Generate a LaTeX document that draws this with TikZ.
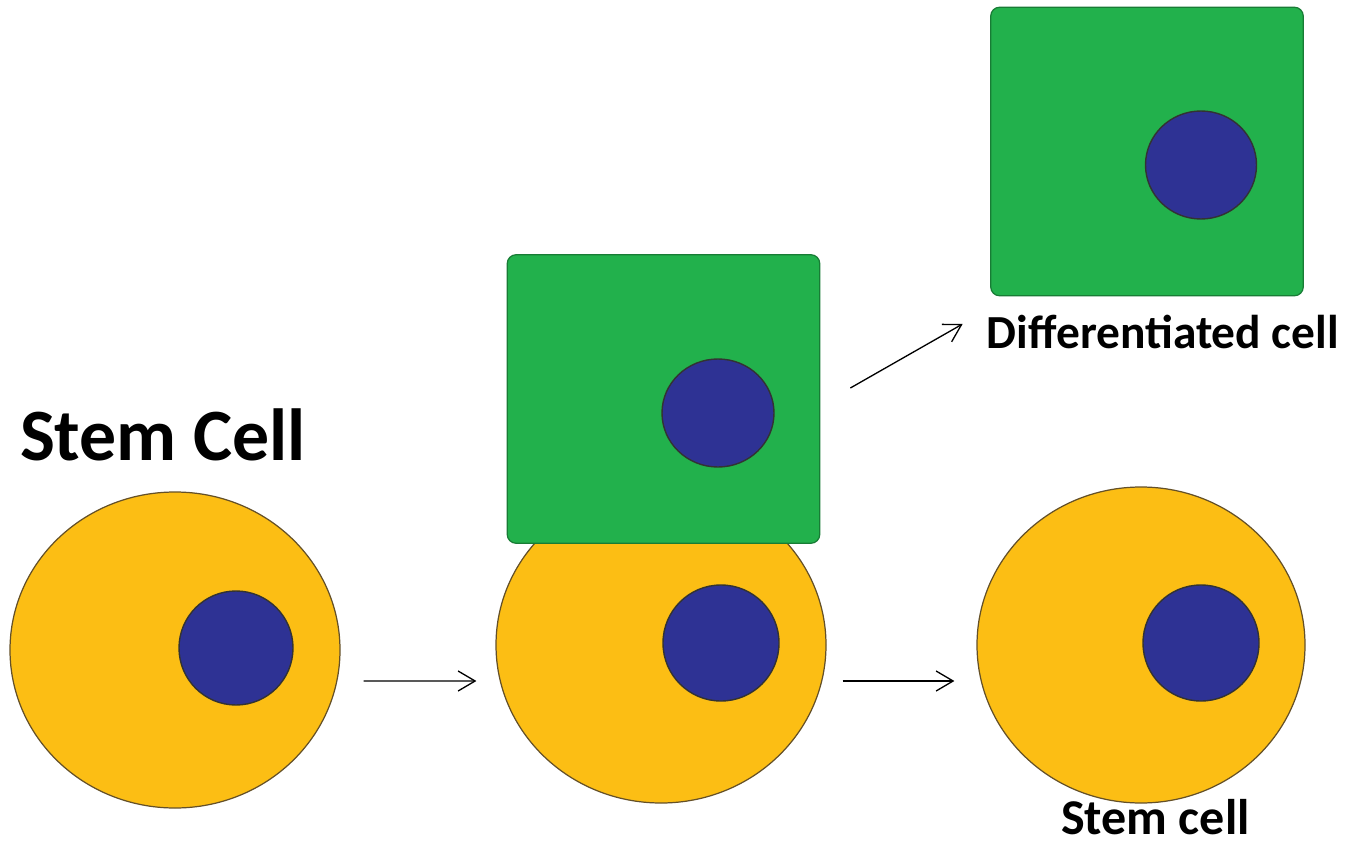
\documentclass[tikz,border=0pt]{standalone}
\usepackage{fontspec}
\setmainfont{Carlito}
\definecolor{cellyellow}{RGB}{252, 190, 20}
\definecolor{cellgreen}{RGB}{34, 177, 76}
\definecolor{nucblue}{RGB}{46, 50, 148}
\definecolor{rimbrown}{RGB}{100, 80, 40}
\usepackage{tikz}
\usetikzlibrary{shapes.geometric, arrows.meta, positioning, calc}

\tikzset{
  stemcell/.style={ellipse, draw=rimbrown, line width=0.7pt, fill=cellyellow,
    minimum width=6.6cm, minimum height=6.32cm, inner sep=0pt},
  diffcell/.style={rectangle, rounded corners=5pt, draw=cellgreen!70!black, line width=0.7pt,
    fill=cellgreen, minimum width=6.25cm, minimum height=5.77cm, inner sep=0pt},
  nucleus/.style={ellipse, draw=black!80, line width=0.8pt, fill=nucblue,
    minimum width=2.28cm, minimum height=2.28cm, inner sep=0pt},
  label/.style={font=\bfseries\fontsize{27}{32}\selectfont, inner sep=0pt},
  arr/.style={line width=0.75pt, -{Straight Barb[length=3.4mm, width=4mm]}}
}

\begin{document}
\begin{tikzpicture}
  \useasboundingbox (0,0) rectangle (27.02,16.96);

  % dividing stem cell
  \node[stemcell] (stemA) at (3.50, 3.96) {};
  \node[nucleus] (nucA) at (4.72, 4.00) {};
  \node[font=\bfseries\fontsize{42}{50}\selectfont, inner sep=0pt, anchor=base] (title) at (3.26, 7.76) {Stem Cell};

  % after division: stem cell with a differentiating daughter on top
  \node[stemcell] (stemB) at (13.22, 4.06) {};
  \node[nucleus, minimum width=2.32cm, minimum height=2.32cm] (nucB) at (14.42, 4.10) {};
  \node[diffcell] (diffB) at (13.27, 8.98) {};
  \node[nucleus, minimum width=2.24cm, minimum height=2.16cm] (nucD) at (14.36, 8.70) {};

  % outcomes
  \node[diffcell] (diffC) at (22.94, 13.93) {};
  \node[nucleus, minimum width=2.22cm, minimum height=2.16cm] (nucE) at (24.02, 13.66) {};
  \node[label, anchor=base] (difflbl) at (23.26, 10.00) {Differentiated cell};

  \node[stemcell, minimum width=6.56cm] (stemC) at (22.82, 4.06) {};
  \node[nucleus, minimum width=2.32cm, minimum height=2.32cm] (nucC) at (24.02, 4.10) {};
  \node[label, font=\bfseries\fontsize{28.5}{34}\selectfont, anchor=base] (stemlbl) at (23.11, 0.27) {Stem cell};

  % arrows
  \draw[arr] ($(stemA.east)+(0.46,-0.62)$) -- ($(stemB.west)+(-0.38,-0.72)$);
  \draw[arr] ($(stemB.east)+(0.32,-0.72)$) -- ($(stemC.west)+(-0.44,-0.72)$);
  \draw[arr] ($(diffB.east)+(0.60,0.22)$) -- ($(difflbl.base west)+(-0.48,0.48)$);
\end{tikzpicture}
\end{document}
